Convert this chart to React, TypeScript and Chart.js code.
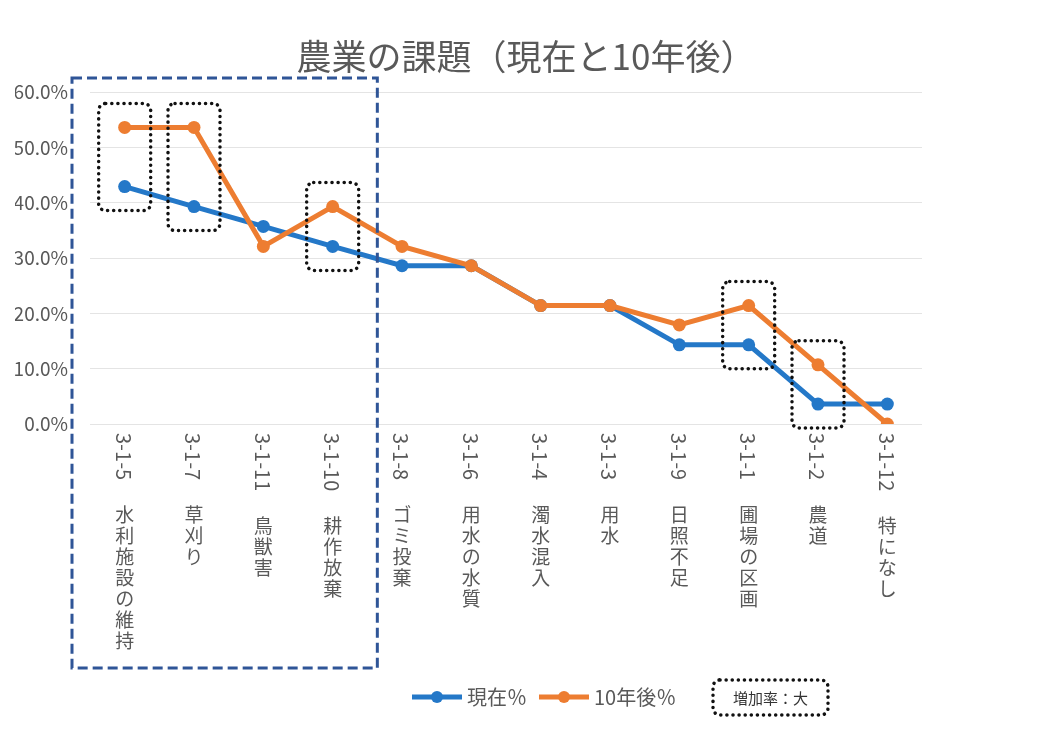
import React, { useEffect, useRef } from "react";
import { Chart, registerables } from "chart.js";

Chart.register(...registerables);

const codes = ["3-1-5", "3-1-7", "3-1-11", "3-1-10", "3-1-8", "3-1-6", "3-1-4", "3-1-3", "3-1-9", "3-1-1", "3-1-2", "3-1-12"];
const names = ["水利施設の維持", "草刈り", "鳥獣害", "耕作放棄", "ゴミ投棄", "用水の水質", "濁水混入", "用水", "日照不足", "圃場の区画", "農道", "特になし"];
const currentPct = [42.9, 39.3, 35.7, 32.1, 28.6, 28.6, 21.4, 21.4, 14.3, 14.3, 3.6, 3.6];
const futurePct = [53.6, 53.6, 32.1, 39.3, 32.1, 28.6, 21.4, 21.4, 17.9, 21.4, 10.7, 0.0];
const highlighted = [0, 1, 3, 9, 10];
const groupFirst = 0;
const groupLast = 3;
const yTicks = [0, 10, 20, 30, 40, 50, 60];

const TITLE = "農業の課題（現在と10年後）";
const LABEL_CURRENT = "現在％";
const LABEL_FUTURE = "10年後％";
const LABEL_BOX = "増加率：大";

const BLUE = "#2478c8";
const ORANGE = "#ed7d31";
const TEXT = "#595959";
const FONT = "'Noto Sans CJK JP', 'Noto Sans', sans-serif";

const overlay = {
  id: "overlay",
  afterDraw(chart: any) {
    const ctx = chart.ctx as CanvasRenderingContext2D;
    const xs = chart.scales.x;
    const ys = chart.scales.y;
    const area = chart.chartArea;

    // title
    ctx.save();
    ctx.fillStyle = TEXT;
    ctx.font = `35px ${FONT}`;
    ctx.textAlign = "center";
    ctx.textBaseline = "middle";
    ctx.fillText(TITLE, 526, 57);
    ctx.restore();

    // category labels (code rotated, name upright vertical)
    ctx.save();
    ctx.fillStyle = TEXT;
    const fs = 19;
    codes.forEach((code, i) => {
      const x = xs.getPixelForValue(i);
      const y0 = area.bottom + 9;
      ctx.save();
      ctx.font = `20px ${FONT}`;
      ctx.translate(x, y0);
      ctx.rotate(Math.PI / 2);
      ctx.textAlign = "left";
      ctx.textBaseline = "middle";
      ctx.fillText(code, 0, 1);
      const w = ctx.measureText(code).width;
      ctx.restore();
      ctx.font = `${fs}px ${FONT}`;
      const chars = Array.from(names[i]);
      ctx.textAlign = "center";
      ctx.textBaseline = "top";
      let cy = y0 + w + fs + 6;
      chars.forEach((ch) => {
        ctx.fillText(ch, x, cy);
        cy += 21;
      });
    });
    ctx.restore();

    // group dashed box
    ctx.save();
    ctx.strokeStyle = "#2f5597";
    ctx.lineWidth = 3;
    ctx.setLineDash([10, 5]);
    const gl = xs.getPixelForValue(groupFirst - 0.5) - 18;
    const gr = (xs.getPixelForValue(groupLast) + xs.getPixelForValue(groupLast + 1)) / 2 + 10;
    const gt = ys.getPixelForValue(60) - 14;
    const gb = area.bottom + 244;
    ctx.strokeRect(gl, gt, gr - gl, gb - gt);
    ctx.restore();

    // highlight dotted boxes
    const dotted = (l: number, t: number, w: number, h: number) => {
      ctx.save();
      ctx.strokeStyle = "#111";
      ctx.lineWidth = 3.5;
      ctx.lineCap = "round";
      ctx.setLineDash([0.1, 6]);
      ctx.beginPath();
      (ctx as any).roundRect(l, t, w, h, 7);
      ctx.stroke();
      ctx.restore();
    };
    highlighted.forEach((i) => {
      const x = xs.getPixelForValue(i);
      const hi = Math.max(currentPct[i], futurePct[i]);
      const lo = Math.min(currentPct[i], futurePct[i]);
      const t = ys.getPixelForValue(hi) - 24;
      const b = ys.getPixelForValue(lo) + 24;
      dotted(x - 26, t, 52, b - t);
    });

    // legend
    ctx.save();
    const ly = 697;
    let lx = 412;
    const legendItem = (color: string, label: string) => {
      ctx.strokeStyle = color;
      ctx.lineWidth = 5;
      ctx.beginPath();
      ctx.moveTo(lx, ly);
      ctx.lineTo(lx + 50, ly);
      ctx.stroke();
      ctx.fillStyle = color;
      ctx.beginPath();
      ctx.arc(lx + 25, ly, 6, 0, Math.PI * 2);
      ctx.fill();
      ctx.fillStyle = TEXT;
      ctx.font = `20px ${FONT}`;
      ctx.textAlign = "left";
      ctx.textBaseline = "middle";
      ctx.fillText(label, lx + 55, ly);
      lx += 55 + ctx.measureText(label).width + 12;
    };
    legendItem(chart.data.datasets[1].borderColor, chart.data.datasets[1].label);
    legendItem(chart.data.datasets[0].borderColor, chart.data.datasets[0].label);
    ctx.restore();
    ctx.save();
    const bx = 713, bw = 115, byT = 680, bh = 35;
    dotted(bx, byT, bw, bh);
    ctx.fillStyle = "#333";
    ctx.font = `15px ${FONT}`;
    ctx.textAlign = "center";
    ctx.textBaseline = "middle";
    ctx.fillText(LABEL_BOX, bx + bw / 2, byT + bh / 2 + 1);
    ctx.restore();
  },
};

export default function App() {
  const ref = useRef<HTMLCanvasElement | null>(null);
  useEffect(() => {
    document.body.style.margin = "0";
    const canvas = ref.current;
    if (!canvas) return;
    const chart = new Chart(canvas, {
      type: "line",
      data: {
        labels: codes,
        datasets: [
          {
            label: LABEL_FUTURE,
            data: futurePct,
            borderColor: ORANGE,
            backgroundColor: ORANGE,
            borderWidth: 5,
            pointRadius: 6.5,
            pointHoverRadius: 6.5,
            pointBorderWidth: 0,
            order: 1,
          },
          {
            label: LABEL_CURRENT,
            data: currentPct,
            borderColor: BLUE,
            backgroundColor: BLUE,
            borderWidth: 5,
            pointRadius: 6.5,
            pointHoverRadius: 6.5,
            pointBorderWidth: 0,
            order: 2,
          },
        ],
      },
      options: {
        animation: false,
        responsive: false,
        layout: { padding: { left: 15, right: 122, top: 92, bottom: 318 } },
        plugins: {
          legend: { display: false },
          tooltip: { enabled: false },
          title: { display: false },
        },
        scales: {
          x: { type: "category", display: false, offset: true },
          y: {
            min: 0,
            max: 60,
            afterBuildTicks: (axis: any) => {
              axis.ticks = yTicks.map((v) => ({ value: v }));
            },
            afterFit: (axis: any) => {
              axis.width = 75;
            },
            grid: { color: "#e4e4e4", lineWidth: 1, drawTicks: false },
            border: { display: false },
            ticks: {
              color: TEXT,
              font: { family: FONT, size: 19 },
              padding: 22,
              callback: (v: any) => Number(v).toFixed(1) + "%",
            },
          },
        },
      },
      plugins: [overlay],
    });
    return () => chart.destroy();
  }, []);
  return (
    <div style={{ width: 1044, height: 742, background: "#fff" }}>
      <canvas ref={ref} width={1044} height={742} />
    </div>
  );
}
